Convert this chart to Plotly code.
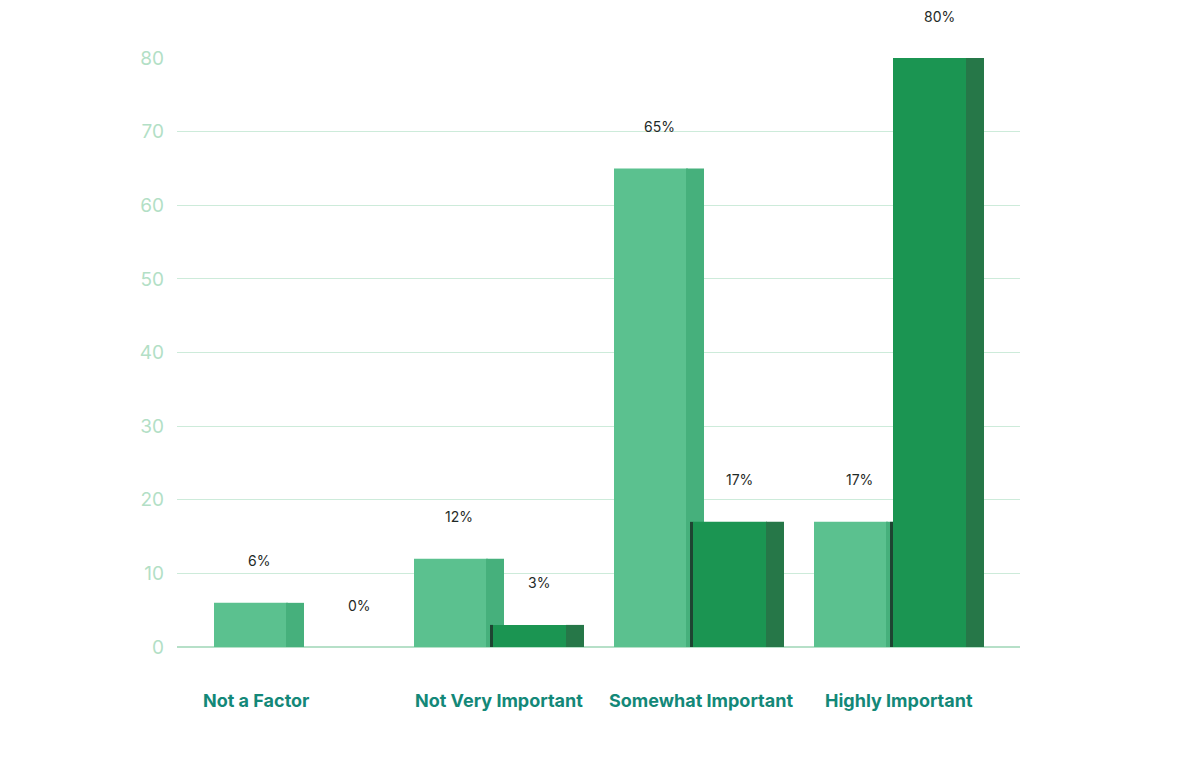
import plotly.graph_objects as go

categories = ["Not a Factor", "Not Very Important", "Somewhat Important", "Highly Important"]
series_a = [6, 12, 65, 17]   # light green series
series_b = [0, 3, 17, 80]    # dark green series
y_ticks = [0, 10, 20, 30, 40, 50, 60, 70, 80]

pos = list(range(len(categories)))
shadow = [min(a, b) for a, b in zip(series_a, series_b)]

LIGHT_FRONT = "#5BC18F"
LIGHT_SIDE = "#46B07C"
DARK_FRONT = "#1B9552"
DARK_SIDE = "#267748"
SHADOW = "#1E4532"
GRID = "#CDEBDA"
TICK = "#B3DFC6"
TEAL = "#138878"

fig = go.Figure()

def add_bar(vals, offset, width, color):
    fig.add_trace(go.Bar(x=pos, y=vals, offset=offset, width=width,
                         marker=dict(color=color, line=dict(width=0)),
                         hoverinfo="skip", showlegend=False))

add_bar(series_a, -0.425, 0.37, LIGHT_FRONT)
add_bar(series_a, -0.065, 0.09, LIGHT_SIDE)
add_bar(shadow, -0.045, 0.016, SHADOW)
add_bar(series_b, -0.03, 0.37, DARK_FRONT)
add_bar(series_b, 0.335, 0.09, DARK_SIDE)

annotations = []
for i, (a, b) in enumerate(zip(series_a, series_b)):
    annotations.append(dict(x=i - 0.2, y=a, xref="x", yref="y", text=f"{a}%",
                            showarrow=False, yshift=42,
                            font=dict(family="Inter", size=14, color="#1F2A27")))
    bx = i + 0.2 if b > 0 else i + 0.3
    annotations.append(dict(x=bx, y=b, xref="x", yref="y", text=f"{b}%",
                            showarrow=False, yshift=42,
                            font=dict(family="Inter", size=14, color="#1F2A27")))

label_xshift = [-43, 0, 2, 0]
for i, c in enumerate(categories):
    annotations.append(dict(x=i, y=0, xref="x", yref="y", text=f"<b>{c}</b>",
                            showarrow=False, yshift=-53, xshift=label_xshift[i],
                            font=dict(family="Inter", size=18, color=TEAL)))

fig.update_layout(
    barmode="overlay",
    width=1179, height=768,
    margin=dict(l=169, r=167, t=50, b=129),
    paper_bgcolor="white", plot_bgcolor="white",
    annotations=annotations,
    xaxis=dict(range=[-0.61, 3.605], showticklabels=False, showgrid=False,
               zeroline=False, showline=False, fixedrange=True),
    yaxis=dict(range=[0, 80], tickvals=y_ticks, showgrid=True, gridcolor=GRID,
               gridwidth=1, zeroline=True, zerolinecolor="#B6E0C8", zerolinewidth=2,
               tickfont=dict(family="Inter", size=19, color=TICK),
               ticklabelstandoff=12, showline=False, fixedrange=True),
)

fig.write_html("out.html")
